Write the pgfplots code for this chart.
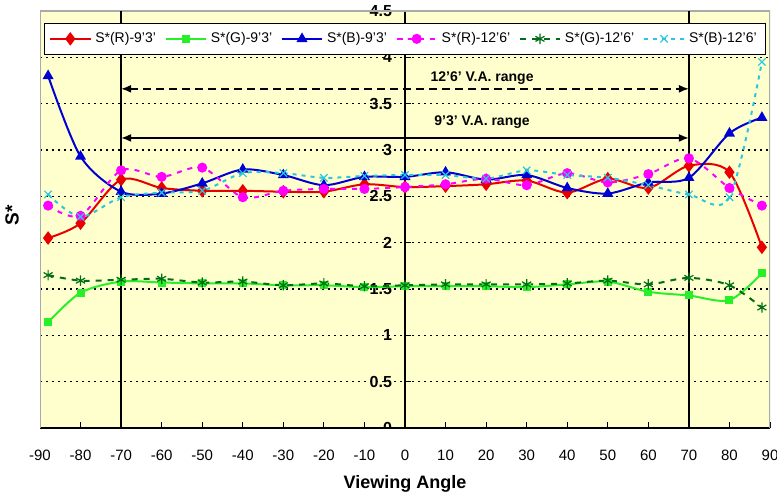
\documentclass[border=0pt]{standalone}
\usepackage{fontspec}
\setmainfont{Liberation Sans}
\usepackage{pgfplots}
\usepackage{pgfplotstable}
\pgfplotsset{compat=1.18}
\usetikzlibrary{arrows.meta}
\definecolor{bgyellow}{RGB}{255,255,206}
\definecolor{cR}{RGB}{232,0,0}
\definecolor{cG}{RGB}{40,240,40}
\definecolor{cB}{RGB}{0,0,210}
\definecolor{cM}{RGB}{255,0,255}
\definecolor{cDG}{RGB}{0,110,20}
\definecolor{cC}{RGB}{40,200,220}
\definecolor{frame}{RGB}{170,170,170}

\pgfplotstableread{
x   R9   G9   B9   R12  G12  B12
-88 2.05 1.14 3.80 2.40 1.65 2.52
-80 2.21 1.46 2.93 2.29 1.59 2.28
-70 2.68 1.58 2.55 2.78 1.60 2.49
-60 2.59 1.57 2.53 2.71 1.61 2.54
-50 2.56 1.56 2.64 2.81 1.57 2.56
-40 2.56 1.56 2.79 2.49 1.58 2.75
-30 2.55 1.54 2.73 2.56 1.54 2.75
-20 2.55 1.54 2.62 2.58 1.56 2.70
-10 2.63 1.52 2.71 2.58 1.53 2.72
0   2.60 1.53 2.71 2.60 1.54 2.73
10  2.61 1.53 2.76 2.63 1.55 2.73
20  2.63 1.53 2.68 2.69 1.55 2.69
30  2.67 1.52 2.73 2.62 1.55 2.78
40  2.54 1.55 2.59 2.75 1.56 2.73
50  2.69 1.58 2.53 2.65 1.59 2.70
60  2.59 1.47 2.65 2.74 1.55 2.62
70  2.83 1.43 2.70 2.91 1.62 2.52
80  2.76 1.38 3.18 2.59 1.54 2.49
88  1.95 1.67 3.35 2.40 1.30 3.95
}\datatable

\begin{document}
\begin{tikzpicture}
\begin{axis}[
  scale only axis,
  width=365pt, height=208.5pt,
  xmin=-90, xmax=90, ymin=0, ymax=4.5,
  enlargelimits=false,
  axis x line=bottom,
  axis y line=middle,
  axis line style={-, black, line width=0.7pt},
  axis background/.style={fill=bgyellow},
  xtick={-90,-80,...,90},
  xticklabels={-90,-80,-70,-60,-50,-40,-30,-20,-10,0,10,20,30,40,50,60,70,80,90},
  ytick={0,0.5,...,4.5},
  yticklabels={0,0.5,1,1.5,2,2.5,3,3.5,4,4.5},
  tick align=inside,
  major tick length=3pt,
  tick style={black, line width=0.5pt},
  xticklabel style={font=\fontsize{7.5}{9}\selectfont, anchor=base, yshift=-16pt},
  yticklabel style={font=\bfseries\fontsize{8}{9}\selectfont, anchor=east, xshift=-3pt},
  /pgf/number format/assume math mode=true,
  ymajorgrids=true,
  grid style={black, line width=0.6pt, dash pattern=on 1.2pt off 1.8pt},
  legend columns=6,
  legend style={at={(rel axis cs:0.5,0.972)}, anchor=north, draw=black, fill=white,
    line width=0.6pt, font=\fontsize{7}{8}\selectfont,
    /tikz/every even column/.append style={column sep=2.4pt},
    inner sep=2.5pt},
  legend image code/.code={\draw[mark repeat=2,mark phase=2] plot coordinates {(0pt,0pt) (10pt,0pt) (20pt,0pt)};},
]
\draw[frame, line width=0.8pt] (rel axis cs:0,0) -- (rel axis cs:0,1) -- (rel axis cs:1,1) -- (rel axis cs:1,0);
\draw[black, line width=0.8pt] (axis cs:-70,0) -- (axis cs:-70,4.5);
\draw[black, line width=0.8pt] (axis cs:70,0) -- (axis cs:70,4.5);

\addplot[cR, line width=1pt, smooth, mark=diamond*, mark size=2.6pt, mark options={solid}] table[x=x,y=R9]{\datatable};
\addplot[cG, line width=1pt, smooth, mark=square*, mark size=1.5pt, mark options={solid}] table[x=x,y=G9]{\datatable};
\addplot[cB, line width=1pt, smooth, mark=triangle*, mark size=2.2pt, mark options={solid}] table[x=x,y=B9]{\datatable};
\addplot[cM, line width=1pt, smooth, dash pattern=on 2.5pt off 3pt, mark=*, mark size=2pt, mark options={solid}] table[x=x,y=R12]{\datatable};
\addplot[cDG, line width=1pt, smooth, dash pattern=on 3pt off 3pt, mark=asterisk, mark size=2.6pt, mark options={solid, line width=0.6pt}] table[x=x,y=G12]{\datatable};
\addplot[cC, line width=1pt, smooth, dash pattern=on 2pt off 2.5pt, mark=x, mark size=2.6pt, mark options={solid, line width=0.6pt}] table[x=x,y=B12]{\datatable};
\legend{S*(R)-9'3', S*(G)-9'3', S*(B)-9'3', S*(R)-12'6', S*(G)-12'6', S*(B)-12'6'}

\draw[black, line width=0.8pt, dash pattern=on 4pt off 2.5pt, {Latex[length=5pt,width=4pt]}-{Latex[length=5pt,width=4pt]}] (axis cs:-70,3.66) -- (axis cs:70,3.66);
\draw[black, line width=0.8pt, {Latex[length=5pt,width=4pt]}-{Latex[length=5pt,width=4pt]}] (axis cs:-70,3.13) -- (axis cs:70,3.13);
\node[font=\bfseries\fontsize{7}{8}\selectfont] at (axis cs:19,3.78) {12'6' V.A. range};
\node[font=\bfseries\fontsize{7}{8}\selectfont] at (axis cs:19,3.30) {9'3' V.A. range};
\node[font=\bfseries\fontsize{8}{9}\selectfont, anchor=east, xshift=-3pt, inner sep=0.333em] at (axis cs:0,0) {0};

\coordinate (bl) at (rel axis cs:0,0);
\coordinate (tr) at (rel axis cs:1,1);
\coordinate (ylab) at (rel axis cs:0,0.51);
\coordinate (xlab) at (rel axis cs:0.5,0);
\end{axis}
\node[rotate=90, font=\bfseries\fontsize{9.5}{11}\selectfont] at ([xshift=-14pt]ylab) {S*};
\node[font=\bfseries\fontsize{9}{11}\selectfont] at ([yshift=-28pt]xlab) {Viewing Angle};
\pgfresetboundingbox
\path ([shift={(-20pt,-34.5pt)}]bl) rectangle ([shift={(3.5pt,5.5pt)}]tr);
\end{tikzpicture}
\end{document}
